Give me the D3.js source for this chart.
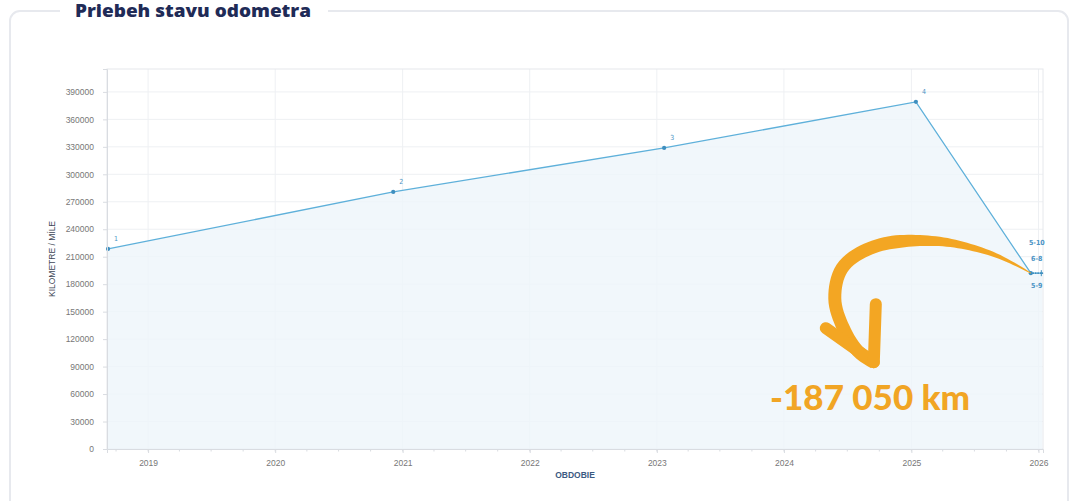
<!DOCTYPE html>
<html>
<head>
<meta charset="utf-8">
<script src="https://cdn.jsdelivr.net/npm/d3@7"></script>
<style>
  html, body { margin: 0; padding: 0; background: #fff; }
  svg { display: block; }
</style>
</head>
<body>
<div id="chart"></div>
<script>
// odometer readings
const readDates = [`2018-09-08`, `2020-12-05`, `2023-01-22`, `2025-01-14`, `2025-12-10`, `2025-12-17`, `2025-12-24`, `2025-12-31`, `2026-01-07`, `2026-01-12`];
const readKm = [218500, 280800, 328800, 379100, 192050, 192050, 192050, 192050, 192050, 192050];
const pointLabels = [`1`, `2`, `3`, `4`];
const clusterLabels = [`5-10`, `6-8`, `5-9`];
const yTicks = [0, 30000, 60000, 90000, 120000, 150000, 180000, 210000, 240000, 270000, 300000, 330000, 360000, 390000];
const xTickYears = [2019, 2020, 2021, 2022, 2023, 2024, 2025, 2026];
const diffText = `-187 050 km`;

const W = 1073, H = 501;
const margin = { top: 69, right: 30, bottom: 52, left: 107 };
const parse = d3.timeParse(`%Y-%m-%d`);
const data = readDates.map((d, i) => ({ date: parse(d), km: readKm[i] }));

const svg = d3.select(`#chart`).append(`svg`).attr(`width`, W).attr(`height`, H);

// card frame + title
svg.append(`rect`)
  .attr(`x`, 10).attr(`y`, 11).attr(`width`, 1058).attr(`height`, 520)
  .attr(`rx`, 10)
  .attr(`fill`, `none`).attr(`stroke`, `#e7e9ee`).attr(`stroke-width`, 2);
svg.append(`rect`).attr(`x`, 60).attr(`y`, 0).attr(`width`, 268).attr(`height`, 24).attr(`fill`, `#fff`);
svg.append(`text`)
  .attr(`x`, 75).attr(`y`, 17)
  .attr(`textLength`, 236).attr(`lengthAdjust`, `spacingAndGlyphs`)
  .style(`font-family`, `"Open Sans", sans-serif`).style(`font-weight`, 800).style(`font-size`, `17px`)
  .attr(`fill`, `#1f2b57`)
  .text(`Priebeh stavu odometra`);

const x = d3.scaleTime()
  .domain([parse(`2018-09-05`), parse(`2026-01-14`)])
  .range([margin.left, W - margin.right]);
const y = d3.scaleLinear()
  .domain([0, 415000])
  .range([H - margin.bottom, margin.top]);

const plot = svg.append(`g`);

// grid
plot.append(`g`).selectAll(`line`).data(yTicks).join(`line`)
  .attr(`x1`, x.range()[0]).attr(`x2`, x.range()[1])
  .attr(`y1`, (d) => y(d)).attr(`y2`, (d) => y(d))
  .attr(`stroke`, `#eef0f3`);
const yearDates = xTickYears.map((yr) => new Date(yr, 0, 1));
plot.append(`g`).selectAll(`line`).data(yearDates).join(`line`)
  .attr(`x1`, (d) => x(d)).attr(`x2`, (d) => x(d))
  .attr(`y1`, y.range()[0]).attr(`y2`, y.range()[1])
  .attr(`stroke`, `#eef0f3`);
plot.append(`rect`)
  .attr(`x`, x.range()[0]).attr(`y`, y.range()[1])
  .attr(`width`, x.range()[1] - x.range()[0]).attr(`height`, y.range()[0] - y.range()[1])
  .attr(`fill`, `none`).attr(`stroke`, `#e6e8ec`);

// area + line
plot.append(`path`)
  .datum(data)
  .attr(`d`, d3.area().x((d) => x(d.date)).y0(y(0)).y1((d) => y(d.km)))
  .attr(`fill`, `#eef5fa`).attr(`opacity`, 0.8);
plot.append(`path`)
  .datum(data)
  .attr(`d`, d3.line().x((d) => x(d.date)).y((d) => y(d.km)))
  .attr(`fill`, `none`).attr(`stroke`, `#5eb0da`).attr(`stroke-width`, 1.3);
plot.append(`g`).selectAll(`circle`).data(data).join(`circle`)
  .attr(`cx`, (d) => x(d.date)).attr(`cy`, (d) => y(d.km))
  .attr(`r`, (d, i) => (i < 5 ? 2.1 : 0.9)).attr(`fill`, `#3f8fbf`);

// point labels
const lblStyle = (s) => s.style(`font-family`, `DejaVu Sans Condensed, sans-serif`).style(`font-size`, `7px`).attr(`fill`, `#4b93c4`);
plot.append(`g`).selectAll(`text`).data(pointLabels).join(`text`)
  .attr(`x`, (d, i) => x(data[i].date) + 6).attr(`y`, (d, i) => y(data[i].km) - 8)
  .call(lblStyle)
  .text((d) => d);
const last = data[data.length - 1];
const cx = x(data[4].date);
const cy = y(last.km);
const clusterDy = [-28, -12, 15];
plot.append(`g`).selectAll(`text`).data(clusterLabels).join(`text`)
  .attr(`x`, cx + 6).attr(`y`, (d, i) => cy + clusterDy[i])
  .attr(`text-anchor`, `middle`)
  .call(lblStyle).style(`font-weight`, `bold`)
  .text((d) => d);
plot.append(`line`)
  .attr(`x1`, x(last.date) - 1).attr(`x2`, x(last.date) - 1)
  .attr(`y1`, cy - 3).attr(`y2`, cy + 3)
  .attr(`stroke`, `#3f8fbf`).attr(`stroke-width`, 1);

// axes
const yAxis = svg.append(`g`)
  .attr(`transform`, `translate(${margin.left},0)`)
  .call(d3.axisLeft(y).tickValues(yTicks).tickFormat(d3.format(`d`)).tickSize(4).tickPadding(9));
yAxis.select(`.domain`).attr(`stroke`, `#d9dce1`);
yAxis.selectAll(`.tick line`).attr(`stroke`, `#d9dce1`);
yAxis.selectAll(`text`)
  .style(`font-family`, `Liberation Sans, Arial, sans-serif`).style(`font-size`, `8.5px`)
  .attr(`fill`, `#777`);

const xAxis = svg.append(`g`)
  .attr(`transform`, `translate(0,${y(0)})`)
  .call(d3.axisBottom(x).tickValues(yearDates).tickFormat(d3.timeFormat(`%Y`)).tickSize(4).tickPadding(7));
xAxis.select(`.domain`).attr(`stroke`, `#d9dce1`);
xAxis.selectAll(`.tick line`).attr(`stroke`, `#d9dce1`);
xAxis.selectAll(`text`)
  .style(`font-family`, `Liberation Sans, Arial, sans-serif`).style(`font-size`, `8.5px`)
  .attr(`fill`, `#777`);
svg.append(`g`)
  .attr(`transform`, `translate(0,${y(0)})`)
  .selectAll(`line`).data(x.ticks(d3.timeMonth.every(3))).join(`line`)
  .attr(`x1`, (d) => x(d)).attr(`x2`, (d) => x(d))
  .attr(`y1`, 0).attr(`y2`, 2.5)
  .attr(`stroke`, `#d9dce1`);

svg.append(`text`)
  .attr(`x`, (x.range()[0] + x.range()[1]) / 2).attr(`y`, 478)
  .attr(`text-anchor`, `middle`)
  .style(`font-family`, `Liberation Sans, Arial, sans-serif`).style(`font-size`, `8.5px`).style(`font-weight`, `bold`)
  .attr(`fill`, `#3c5a82`)
  .text(`OBDOBIE`);
svg.append(`text`)
  .attr(`transform`, `translate(55,${(y.range()[0] + y.range()[1]) / 2}) rotate(-90)`)
  .attr(`text-anchor`, `middle`)
  .style(`font-family`, `Liberation Sans, Arial, sans-serif`).style(`font-size`, `8.5px`)
  .attr(`fill`, `#3d4656`)
  .text(`KILOMETRE / MÍLE`);

// hand-drawn arrow annotation
const ax = x(data[4].date), ay = cy;
const arrowPts = [[0, 0], [-38, -19], [-95, -32], [-155, -27], [-188, -6], [-196, 26], [-186, 58], [-172, 79], [-157, 89]]
  .map(([dx, dy]) => [ax + dx, ay + dy]);
const guide = svg.append(`path`)
  .attr(`d`, d3.line().curve(d3.curveCatmullRom)(arrowPts))
  .attr(`fill`, `none`).attr(`stroke`, `none`);
const node = guide.node();
const len = node.getTotalLength();
const n = 80;
const left = [], right = [];
for (let i = 0; i <= n; i++) {
  const t = i / n;
  const p = node.getPointAtLength(t * len);
  const q = node.getPointAtLength(Math.min(len, t * len + 0.5));
  const p0 = node.getPointAtLength(Math.max(0, t * len - 0.5));
  const dx = q.x - p0.x, dy = q.y - p0.y;
  const m = Math.hypot(dx, dy) || 1;
  const w = (1 + 12 * Math.min(1, t / 0.45)) / 2;
  left.push([p.x - dy / m * w, p.y + dx / m * w]);
  right.push([p.x + dy / m * w, p.y - dx / m * w]);
}
svg.append(`path`)
  .attr(`d`, d3.line()(left.concat(right.reverse())) + `Z`)
  .attr(`fill`, `#f3a623`);
const tip = arrowPts[arrowPts.length - 1];
svg.append(`g`).selectAll(`line`).data([[-48, -34], [2, -58]]).join(`line`)
  .attr(`x1`, tip[0]).attr(`y1`, tip[1])
  .attr(`x2`, (d) => tip[0] + d[0]).attr(`y2`, (d) => tip[1] + d[1])
  .attr(`stroke`, `#f3a623`).attr(`stroke-width`, 12).attr(`stroke-linecap`, `round`);

svg.append(`text`)
  .attr(`x`, 770).attr(`y`, 410)
  .style(`font-family`, `Lato, sans-serif`).style(`font-weight`, 900).style(`font-size`, `35px`)
  .attr(`fill`, `#f1a524`)
  .text(diffText);
</script>
</body>
</html>
